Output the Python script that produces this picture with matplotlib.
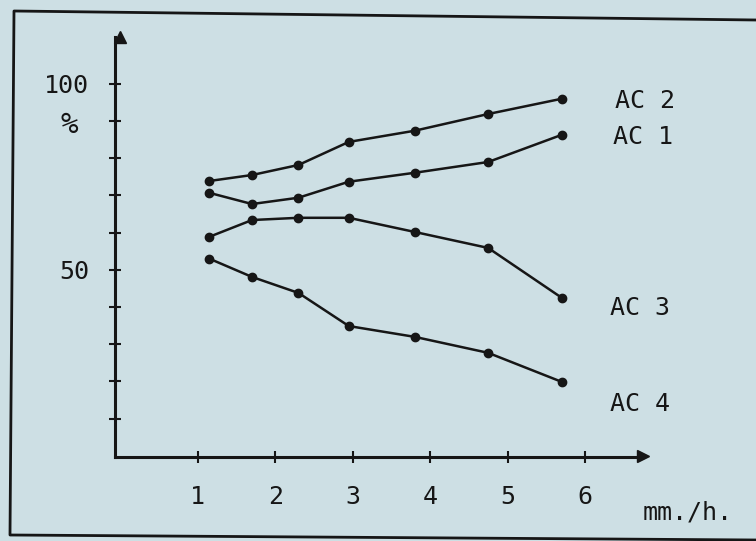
import matplotlib
matplotlib.use("Agg")
import matplotlib.pyplot as plt
from matplotlib.lines import Line2D

# rate (mm./h.) at which each point was read
rate = [1.15, 1.7, 2.3, 2.95, 3.8, 4.75, 5.7]

# percentage for each series
ac1 = [70.7, 67.7, 69.4, 73.7, 76.1, 79.0, 86.3]
ac2 = [73.9, 75.5, 78.2, 84.4, 87.4, 91.9, 96.0]
ac3 = [58.9, 63.4, 64.0, 64.0, 60.2, 55.9, 42.5]
ac4 = [53.0, 48.1, 43.8, 34.9, 32.0, 27.7, 19.9]

series = {"AC 1": ac1, "AC 2": ac2, "AC 3": ac3, "AC 4": ac4}

x_ticks = [1, 2, 3, 4, 5, 6]
y_ticks = [10, 20, 30, 40, 50, 60, 70, 80, 90, 100]
y_labels = {50: "50", 100: "100"}

W, H = 756, 541
INK = "#161616"
PAPER = "#cddfe4"
FONT = "DejaVu Sans Mono"


def fx(px):
    return px / W


def fy(py):
    return 1 - py / H


def main():
    fig = plt.figure(figsize=(W / 100, H / 100), dpi=100, facecolor=PAPER)
    ax = fig.add_axes([fx(115), fy(457), fx(643) - fx(115), fy(37) - fy(457)])
    ax.set_facecolor("none")

    for name, vals in series.items():
        ax.plot(rate, vals, color=INK, lw=1.8, marker="o", ms=6,
                solid_capstyle="round")

    ax.set_xlim(-0.07, 6.75)
    ax.set_ylim(-0.3, 112.6)

    for s in ["top", "right"]:
        ax.spines[s].set_visible(False)
    for s in ["left", "bottom"]:
        ax.spines[s].set_linewidth(2.2)
        ax.spines[s].set_color(INK)

    # arrow heads at the end of each axis
    ax.plot(1, 0, ">", color=INK, ms=9, transform=ax.get_yaxis_transform(),
            clip_on=False)
    ax.plot(0, 1, "^", color=INK, ms=9, transform=ax.get_xaxis_transform(),
            clip_on=False)

    ax.set_xticks(x_ticks)
    ax.set_xticklabels([str(t) for t in x_ticks])
    ax.set_yticks(y_ticks)
    ax.set_yticklabels([y_labels.get(t, "") for t in y_ticks])
    ax.tick_params(direction="inout", length=9, width=1.5, color=INK,
                   labelcolor=INK, labelsize=18)
    ax.tick_params(axis="x", pad=16)
    ax.tick_params(axis="y", pad=14)
    for lab in ax.get_xticklabels() + ax.get_yticklabels():
        lab.set_fontfamily(FONT)

    fig.text(fx(69), fy(125), "%", fontsize=21, family=FONT, color=INK,
             ha="center", va="center")
    fig.text(fx(688), fy(513), "mm./h.", fontsize=18, family=FONT, color=INK,
             ha="center", va="center")

    label_pos = {"AC 2": (645, 101), "AC 1": (643, 137),
                 "AC 3": (640, 308), "AC 4": (640, 404)}
    for name, (px, py) in label_pos.items():
        fig.text(fx(px), fy(py), name, fontsize=18, family=FONT, color=INK,
                 ha="center", va="center")

    # frame drawn round the figure on the page
    frame = Line2D([fx(756), fx(14), fx(10), fx(756)],
                   [fy(20), fy(11), fy(535), fy(540)],
                   transform=fig.transFigure, color=INK, lw=2)
    fig.add_artist(frame)

    fig.savefig("out.png", dpi=100, facecolor=PAPER)


if __name__ == "__main__":
    main()
